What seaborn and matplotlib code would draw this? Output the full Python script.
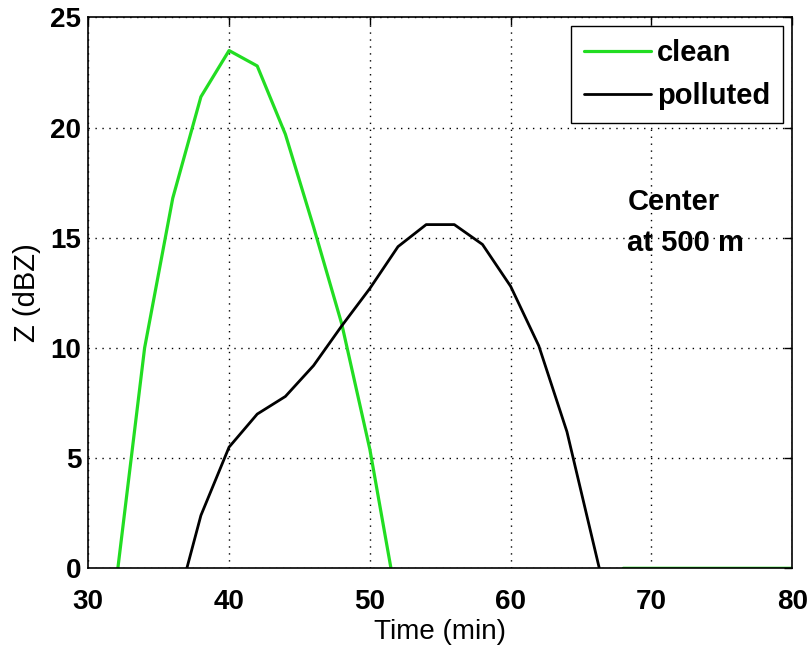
import numpy as np
import pandas as pd
import seaborn as sns
import matplotlib.pyplot as plt

# values
clean_time = [32.1, 34, 36, 38, 40, 42, 44, 46, 48, 50, 51.5, np.nan, 68, 80]
clean_z = [0, 10.0, 16.8, 21.4, 23.5, 22.8, 19.7, 15.5, 11.1, 5.4, 0, np.nan, 0, 0]

polluted_time = [37.0, 38, 40, 42, 44, 46, 48, 50, 52, 54, 56, 58, 60, 62, 64, 66.3]
polluted_z = [0, 2.4, 5.5, 7.0, 7.8, 9.2, 11.0, 12.7, 14.6, 15.6, 15.6, 14.7,
              12.8, 10.1, 6.2, 0]

x_ticks = [30, 40, 50, 60, 70, 80]
y_ticks = [0, 5, 10, 15, 20, 25]

sns.set_style("white")
plt.rcParams['font.family'] = ['Liberation Sans', 'DejaVu Sans']
for key in ['text.color', 'axes.labelcolor', 'xtick.color', 'ytick.color']:
    plt.rcParams[key] = 'black'

fig = plt.figure(figsize=(8.1, 6.48), dpi=100)
ax = fig.add_axes([0.109, 0.123, 0.869, 0.850])

clean_df = pd.DataFrame({'time': clean_time, 'z': clean_z})
polluted_df = pd.DataFrame({'time': polluted_time, 'z': polluted_z})

# clean has a gap, so plot it straight from the frame to keep the NaN break
ax.plot(clean_df['time'], clean_df['z'], color='#22dd22', lw=2.3,
        label='clean')
sns.lineplot(data=polluted_df, x='time', y='z', color='black', lw=2.0,
             label='polluted', ax=ax, sort=False)

ax.set_xlim(30, 80)
ax.set_ylim(0, 25)
ax.set_xticks(x_ticks)
ax.set_yticks(y_ticks)
ax.set_xticklabels([str(t) for t in x_ticks], fontsize=20, fontweight='bold')
ax.set_yticklabels([str(t) for t in y_ticks], fontsize=20, fontweight='bold')
ax.tick_params(direction='in', length=6, width=1, top=True, right=True)
ax.tick_params(axis='x', pad=15)
ax.tick_params(axis='y', pad=5)
ax.grid(True, color='black', linestyle=(0, (1, 4)), linewidth=1)
for s in ax.spines.values():
    s.set_color('black')
    s.set_linewidth(1.2)

ax.set_xlabel('Time (min)', fontsize=20, labelpad=3)
ax.set_ylabel('Z (dBZ)', fontsize=21, labelpad=7)

ax.text(68.3, 15.7, 'Center\nat 500 m', fontsize=21, fontweight='bold',
        ha='left', va='center', linespacing=1.6)

leg = ax.legend(loc='upper right', handlelength=2.3,
                handletextpad=0.2, borderaxespad=0.3, fancybox=False,
                framealpha=1, edgecolor='black', borderpad=0.45,
                labelspacing=0.5, prop={'weight': 'bold', 'size': 21})
leg.get_frame().set_linewidth(1.0)

plt.savefig('out.png', dpi=100)
